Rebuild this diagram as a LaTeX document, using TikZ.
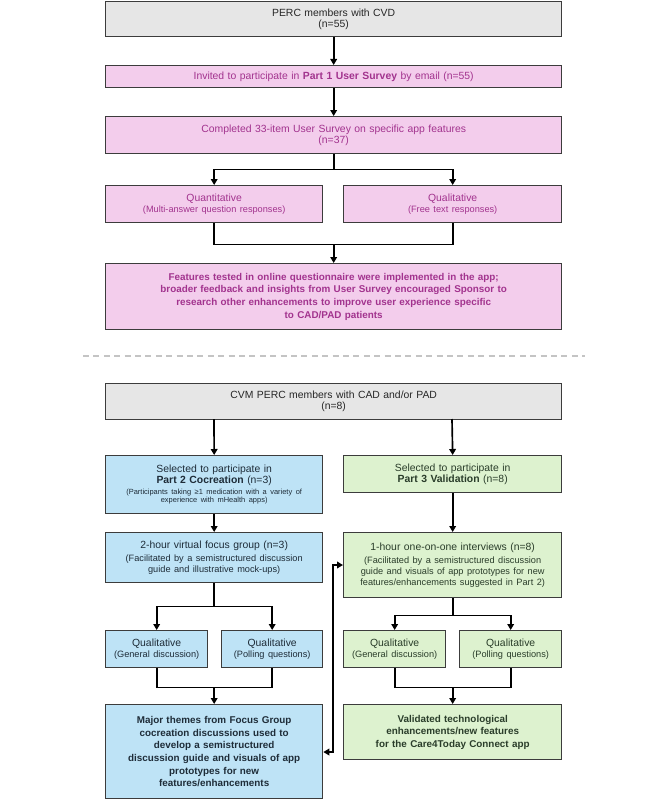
\documentclass[tikz,border=0pt]{standalone}
\usepackage{fontspec}
\setmainfont{Liberation Sans}
\usetikzlibrary{arrows.meta,calc}
\definecolor{grayfill}{HTML}{E6E6E6}
\definecolor{pinkfill}{HTML}{F3CDEC}
\definecolor{pinktext}{HTML}{A2338E}
\definecolor{bluefill}{HTML}{BEE3F6}
\definecolor{greenfill}{HTML}{DDF2CF}
\definecolor{bordercol}{HTML}{3C3C3C}
\definecolor{bluetext}{HTML}{1E2C38}
\definecolor{greentext}{HTML}{2A3D2A}
\definecolor{dashcol}{HTML}{C4C4C4}
\newcommand{\mainsz}{\fontsize{7.8}{8.4}\selectfont}
\newcommand{\boldsz}{\fontsize{7.4}{9.5}\selectfont\bfseries}
\newcommand{\smallsz}{\fontsize{6.9}{8.3}\selectfont}
\newcommand{\tinysz}{\fontsize{5.6}{6.3}\selectfont}
\tikzset{
  box/.style={draw=bordercol, line width=1pt, anchor=north west, align=center, inner sep=1pt, font=\mainsz},
  graybox/.style={box, fill=grayfill, text=black!85},
  pinkbox/.style={box, fill=pinkfill, text=pinktext},
  bluebox/.style={box, fill=bluefill, text=bluetext},
  greenbox/.style={box, fill=greenfill, text=greentext},
  dims/.style n args={2}{minimum width={#1*0.75pt}, minimum height={#2*0.75pt}, text width={(#1-6)*0.75pt}},
  arr/.style={line width=1.25pt, black, -{Triangle[length=4.5pt,width=5pt]}},
  ln/.style={line width=1.25pt, black},
  darr/.style={line width=1.25pt, black, {Triangle[length=4.5pt,width=5pt]}-{Triangle[length=4.5pt,width=5pt]}},
}
\begin{document}
\begin{tikzpicture}[x=0.75pt,y=-0.75pt]
\useasboundingbox (0,0) rectangle (666,799);
% Part 1
\node[graybox, dims={456}{35}] (A) at (105,1) {PERC members with CVD\\(n=55)};
\node[pinkbox, dims={456}{22}] (B) at (105,65) {Invited to participate in \textbf{Part 1 User Survey} by email (n=55)};
\node[pinkbox, dims={456}{37}] (C) at (105,116) {Completed 33-item User Survey on specific app features\\(n=37)};
\node[pinkbox, dims={217}{37}] (D) at (105,185) {Quantitative\par\vspace{0.5pt}{\smallsz (Multi-answer question responses)\par}};
\node[pinkbox, dims={218}{37}] (E) at (343,185) {Qualitative\par\vspace{0.5pt}{\smallsz (Free text responses)\par}};
\node[pinkbox, dims={456}{66}, font=\boldsz] (F) at (105,263) {Features tested in online questionnaire were implemented in the app;\\broader feedback and insights from User Survey encouraged Sponsor to\\research other enhancements to improve user experience specific\\to CAD/PAD patients};
\draw[arr] (A.south) -- (B.north);
\draw[arr] (B.south) -- (C.north);
\draw[arr] (C.south) -- ++(0,15) -| (D.north);
\draw[arr] (C.south) -- ++(0,15) -| (E.north);
\draw[ln] (D.south) -- ++(0,21) -| (E.south);
\draw[arr] ($(F.north |- D.south)+(0,21)$) -- (F.north);
% separator
\coordinate (s1) at (83,356);
\coordinate (s2) at (585,356);
\draw[dashcol, line width=1.2pt, dash pattern=on 4.5pt off 3.3pt] (s1) -- (s2);
% Parts 2 and 3
\node[graybox, dims={456}{36}] (G) at (105,383) {CVM PERC members with CAD and/or PAD\\(n=8)};
\node[bluebox, dims={217}{58}] (H) at (105,455) {Selected to participate in\\\textbf{Part 2 Cocreation} (n=3)\par\vspace{1.5pt}{\tinysz (Participants taking ≥1 medication with a variety of\\experience with mHealth apps)\par}};
\node[greenbox, dims={218}{37}] (I) at (343,455) {Selected to participate in\\\textbf{Part 3 Validation} (n=8)};
\node[bluebox, dims={217}{50}] (J) at (105,532) {2-hour virtual focus group (n=3)\par\vspace{1.5pt}{\smallsz (Facilitated by a semistructured discussion\\guide and illustrative mock-ups)\par}};
\node[greenbox, dims={218}{65}] (K) at (343,532) {1-hour one-on-one interviews (n=8)\par\vspace{1.5pt}{\smallsz (Facilitated by a semistructured discussion\\guide and visuals of app prototypes for new\\features/enhancements suggested in Part 2)\par}};
\node[bluebox, dims={102}{37}] (L1) at (105,630) {Qualitative\par\vspace{0.5pt}{\smallsz (General discussion)\par}};
\node[bluebox, dims={101}{37}] (L2) at (221,630) {Qualitative\par\vspace{0.5pt}{\smallsz (Polling questions)\par}};
\node[greenbox, dims={102}{37}] (M1) at (343,630) {Qualitative\par\vspace{0.5pt}{\smallsz (General discussion)\par}};
\node[greenbox, dims={102}{37}] (M2) at (459,630) {Qualitative\par\vspace{0.5pt}{\smallsz (Polling questions)\par}};
\node[bluebox, dims={217}{94}, font=\boldsz] (N) at (105,704) {Major themes from Focus Group\\cocreation discussions used to\\develop a semistructured\\discussion guide and visuals of app\\prototypes for new\\features/enhancements};
\node[greenbox, dims={218}{55}, font=\boldsz] (O) at (343,704) {Validated technological\\enhancements/new features\\for the Care4Today Connect app};
\coordinate (gl) at (214,419);
\coordinate (gr) at (452,419);
\draw[arr] (gl) -- (H.north);
\draw[arr] (gr) -- (I.north);
\draw[arr] (H.south) -- (J.north);
\draw[arr] (I.south) -- (K.north);
\draw[arr] (J.south) -- ++(0,23) -| (L1.north);
\draw[arr] (J.south) -- ++(0,23) -| (L2.north);
\draw[arr] (K.south) -- ++(0,17) -| (M1.north);
\draw[arr] (K.south) -- ++(0,17) -| (M2.north);
\draw[ln] (L1.south) -- ++(0,19) -| (L2.south);
\draw[arr] ($(N.north |- L1.south)+(0,19)$) -- (N.north);
\draw[ln] (M1.south) -- ++(0,19) -| (M2.south);
\draw[arr] ($(O.north |- M1.south)+(0,19)$) -- (O.north);
\coordinate (dn) at (333,752);
\coordinate (up) at (333,565);
\draw[darr] (N.east |- dn) -- (dn) -- (up) -- (K.west |- up);
\end{tikzpicture}
\end{document}
